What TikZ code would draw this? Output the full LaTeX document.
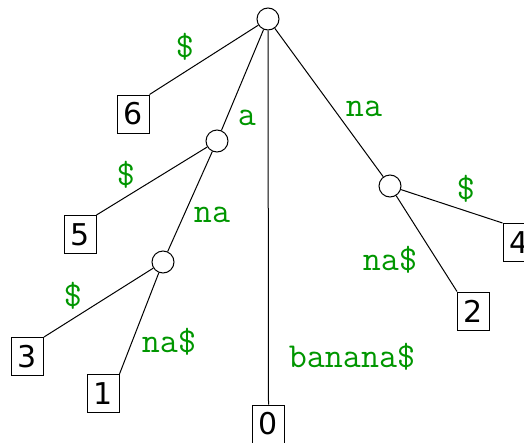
\documentclass[tikz,border=0pt]{standalone}
\usepackage{fontspec}
\setsansfont{DejaVu Sans}
\definecolor{lblgreen}{RGB}{0,150,0}
\begin{document}
\begin{tikzpicture}[x=1pt,y=-1pt,
  inode/.style={circle,draw,fill=white,minimum size=22pt,inner sep=0pt,line width=1pt},
  leaf/.style={draw,minimum width=32pt,minimum height=38pt,inner sep=0pt,line width=1pt,
    font=\fontsize{30}{30}\selectfont\sffamily},
  lbl/.style={text=lblgreen,font=\ttfamily\fontsize{35}{35}\selectfont,inner sep=0pt},
  edge/.style={line width=1pt}]
\useasboundingbox (0,0) rectangle (524,442);
% internal nodes
\node[inode] (r)   at (268,19) {};
\node[inode] (a)   at (217,141) {};
\node[inode] (ana) at (163,262) {};
\node[inode] (na)  at (390,186) {};
% leaves
\node[leaf] (l6) at (133,114) {6};
\node[leaf] (l5) at (80,234.5) {5};
\node[leaf] (l3) at (27.5,356.5) {3};
\node[leaf] (l1) at (103,393.5) {1};
\node[leaf] (l0) at (268.5,424) {0};
\node[leaf] (l2) at (473.5,311) {2};
\node[leaf] (l4) at (519,242.5) {4};
% edges
\draw[edge] (r) -- (l6.north east);
\draw[edge] (r) -- (a);
\draw[edge] (r) -- (l0.north);
\draw[edge] (r) -- (na);
\draw[edge] (a) -- (l5.north east);
\draw[edge] (a) -- (ana);
\draw[edge] (ana) -- (l3.north east);
\draw[edge] (ana) -- (l1.north east);
\draw[edge] (na) -- (l4.north west);
\draw[edge] (na) -- (l2.north west);
% labels
\node[lbl] (t6) at (185,47) {\$};
\node[lbl] (ta) at (247,117.5) {a};
\node[lbl] (tna) at (364,109) {na};
\node[lbl] (t5) at (126,175) {\$};
\node[lbl] (tana) at (212,215) {na};
\node[lbl] (t3) at (73,296) {\$};
\node[lbl] (t1) at (169,342) {na\$};
\node[lbl] (t0) at (352,357) {banana\$};
\node[lbl] (t4) at (466,189) {\$};
\node[lbl] (t2) at (390,260) {na\$};
\end{tikzpicture}
\end{document}
